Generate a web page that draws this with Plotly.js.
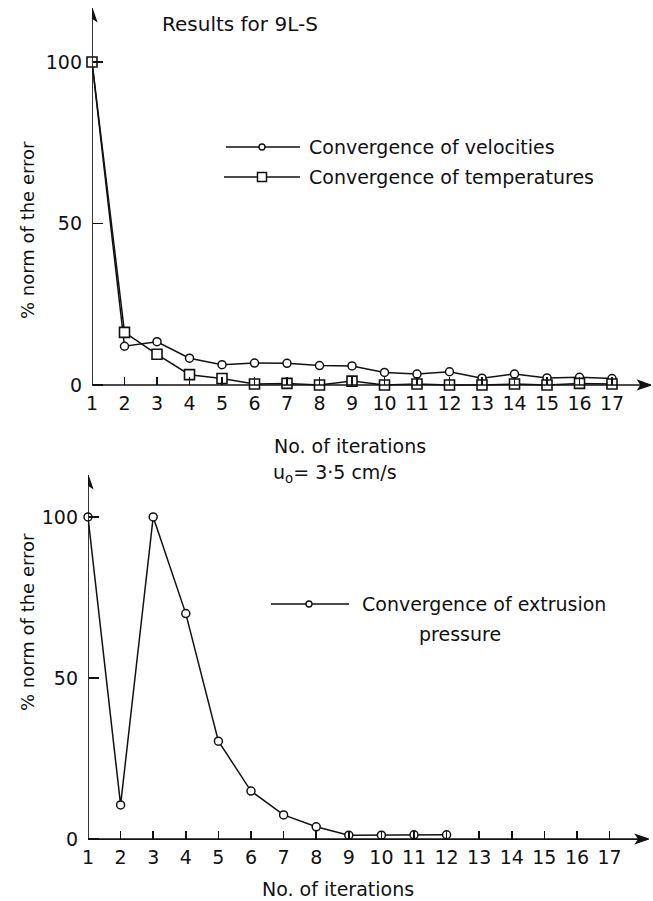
<!DOCTYPE html>
<html>
<head>
<meta charset="utf-8">
<script src="https://cdn.plot.ly/plotly-3.0.1.min.js"></script>
<style>
  html, body { margin: 0; padding: 0; background: #fff; }
  #chart { width: 653px; height: 901px; }
</style>
</head>
<body>
<div id="chart"></div>
<script>
// Iteration numbers shared by both panels
const iterations = [1, 2, 3, 4, 5, 6, 7, 8, 9, 10, 11, 12, 13, 14, 15, 16, 17];

// Upper panel: % norm of the error per iteration (Results for 9L-S)
const velocities   = [100, 12.0, 13.4, 8.3, 6.3, 6.8, 6.7, 6.0, 5.9, 3.9, 3.4, 4.1, 2.1, 3.4, 2.2, 2.4, 2.0];
const temperatures = [100, 16.3, 9.5, 3.2, 2.0, 0.3, 0.5, 0.0, 1.2, 0.0, 0.3, 0.0, 0.0, 0.3, 0.0, 0.5, 0.3];

// Lower panel: extrusion pressure, u0 = 3.5 cm/s
const pressureIterations = [1, 2, 3, 4, 5, 6, 7, 8, 9, 10, 11, 12];
const pressure = [100, 10.6, 100, 70, 30.4, 14.9, 7.5, 3.8, 1.2, 1.2, 1.3, 1.3];

const xTicks = iterations;
const yTicks = [0, 50, 100];

const INK = '#111';
const FONT = 'DejaVu Sans, sans-serif';
const W = 653, H = 901;
const px = v => v / W;          // pixel -> paper x
const py = v => 1 - v / H;      // pixel -> paper y

const lineStyle = { color: INK, width: 1.5 };

const traces = [
  {
    x: iterations, y: velocities, xaxis: 'x', yaxis: 'y',
    mode: 'lines+markers', name: 'Convergence of velocities',
    line: lineStyle,
    marker: { symbol: 'circle', size: 8, color: '#fff', line: { color: INK, width: 1.5 } },
    cliponaxis: false, showlegend: false
  },
  {
    x: iterations, y: temperatures, xaxis: 'x', yaxis: 'y',
    mode: 'lines+markers', name: 'Convergence of temperatures',
    line: lineStyle,
    marker: { symbol: 'square', size: 10, color: '#fff', line: { color: INK, width: 1.6 } },
    cliponaxis: false, showlegend: false
  },
  {
    x: pressureIterations, y: pressure, xaxis: 'x2', yaxis: 'y2',
    mode: 'lines+markers', name: 'Convergence of extrusion pressure',
    line: lineStyle,
    marker: { symbol: 'circle', size: 8, color: '#fff', line: { color: INK, width: 1.5 } },
    cliponaxis: false, showlegend: false
  }
];

const X_END = 18.2;

function xAxis(domain, posPx) {
  return {
    domain: domain, range: [1, X_END], anchor: 'free', position: py(posPx),
    showgrid: false, zeroline: false, showline: false,
    tickvals: xTicks, ticktext: xTicks.map(String),
    ticks: 'inside', ticklen: 8, tickwidth: 1.5, tickcolor: INK,
    ticklabelstandoff: 5,
    tickfont: { family: FONT, size: 19, color: INK }
  };
}
function yAxis(domain, range, posPx) {
  return {
    domain: domain, range: range, anchor: 'free', position: px(posPx),
    showgrid: false, zeroline: false, showline: false,
    tickvals: yTicks, ticktext: yTicks.map(String),
    ticks: 'inside', ticklen: 10, tickwidth: 1.5, tickcolor: INK,
    ticklabelstandoff: 10,
    tickfont: { family: FONT, size: 19, color: INK }
  };
}

function label(text, xPx, yPx, opts, size) {
  return Object.assign({
    xref: 'paper', yref: 'paper', x: px(xPx), y: py(yPx),
    text: text, showarrow: false, xanchor: 'left', yanchor: 'middle',
    font: { family: FONT, size: size || 19, color: INK }
  }, opts || {});
}

const annotations = [
  label('Results for 9L-S', 160, 24, null, 20),
  label('Convergence of velocities', 307, 147),
  label('Convergence of temperatures', 307, 177),
  label('No. of iterations', 350, 446, { xanchor: 'center' }),
  label('u<sub>o</sub>= 3·5 cm/s', 271, 474),
  label('Convergence of extrusion', 360, 604),
  label('pressure', 460, 634, { xanchor: 'center' }),
  label('No. of iterations', 338, 889, { xanchor: 'center' }),
  label('% norm of the error', 27, 230, { xanchor: 'center', textangle: -90 }, 18),
  label('% norm of the error', 27, 622, { xanchor: 'center', textangle: -90 }, 18)
];

// Axis lines from the origin, each finished with an arrowhead
function axisLine(xr, yr, x0, y0, x1, y1) {
  return { type: 'line', xref: xr, yref: yr, x0: x0, y0: y0, x1: x1, y1: y1,
           line: { color: INK, width: 1.7 }, layer: 'above' };
}
function arrowHead(xr, yr, x, y, path) {
  return { type: 'path', xref: xr, yref: yr, xsizemode: 'pixel', ysizemode: 'pixel',
           xanchor: x, yanchor: y, path: path,
           fillcolor: INK, line: { color: INK, width: 1.2 }, layer: 'above' };
}
const RIGHT = 'M-13,-4.5L0,0L-13,4.5L-10,0Z';
const UP = 'M-4.5,-13L0,0L4.5,-13L0,-10Z';

// Legend keys: a short line with the series marker in the middle
function keyLine(x0, x1, y) {
  return { type: 'line', xref: 'paper', yref: 'paper', x0: px(x0), x1: px(x1), y0: py(y), y1: py(y),
           line: { color: INK, width: 1.5 } };
}
function keyCircle(cx, cy, r) {
  return { type: 'circle', xref: 'paper', yref: 'paper',
           x0: px(cx - r), x1: px(cx + r), y0: py(cy + r), y1: py(cy - r),
           fillcolor: '#fff', line: { color: INK, width: 1.4 }, layer: 'above' };
}
function keySquare(cx, cy, r) {
  return { type: 'rect', xref: 'paper', yref: 'paper',
           x0: px(cx - r), x1: px(cx + r), y0: py(cy + r), y1: py(cy - r),
           fillcolor: '#fff', line: { color: INK, width: 1.5 }, layer: 'above' };
}

const shapes = [
  axisLine('x', 'y', 1, 0, X_END, 0), arrowHead('x', 'y', X_END, 0, RIGHT),
  axisLine('x', 'y', 1, 0, 1, 116.7), arrowHead('x', 'y', 1, 116.7, UP),
  axisLine('x2', 'y2', 1, 0, X_END, 0), arrowHead('x2', 'y2', X_END, 0, RIGHT),
  axisLine('x2', 'y2', 1, 0, 1, 113), arrowHead('x2', 'y2', 1, 113, UP),
  keyLine(226, 300, 147), keyCircle(262, 147, 3),
  keyLine(224, 300, 177), keySquare(262, 177, 4.5),
  keyLine(271, 349, 604), keyCircle(309, 604, 3)
];

const layout = {
  width: W, height: H,
  margin: { l: 0, r: 0, t: 0, b: 0 },
  paper_bgcolor: '#fff', plot_bgcolor: 'rgba(0,0,0,0)',
  showlegend: false,
  font: { family: FONT, color: INK },
  xaxis: xAxis([px(92), px(651)], 385),
  yaxis: yAxis([py(394.7), py(8)], [-3, 116.7], 92),
  xaxis2: xAxis([px(88), px(648.7)], 839),
  yaxis2: yAxis([py(848.7), py(475.1)], [-3, 113], 88),
  annotations: annotations,
  shapes: shapes
};

Plotly.newPlot('chart', traces, layout, { displayModeBar: false, staticPlot: true });
</script>
</body>
</html>
